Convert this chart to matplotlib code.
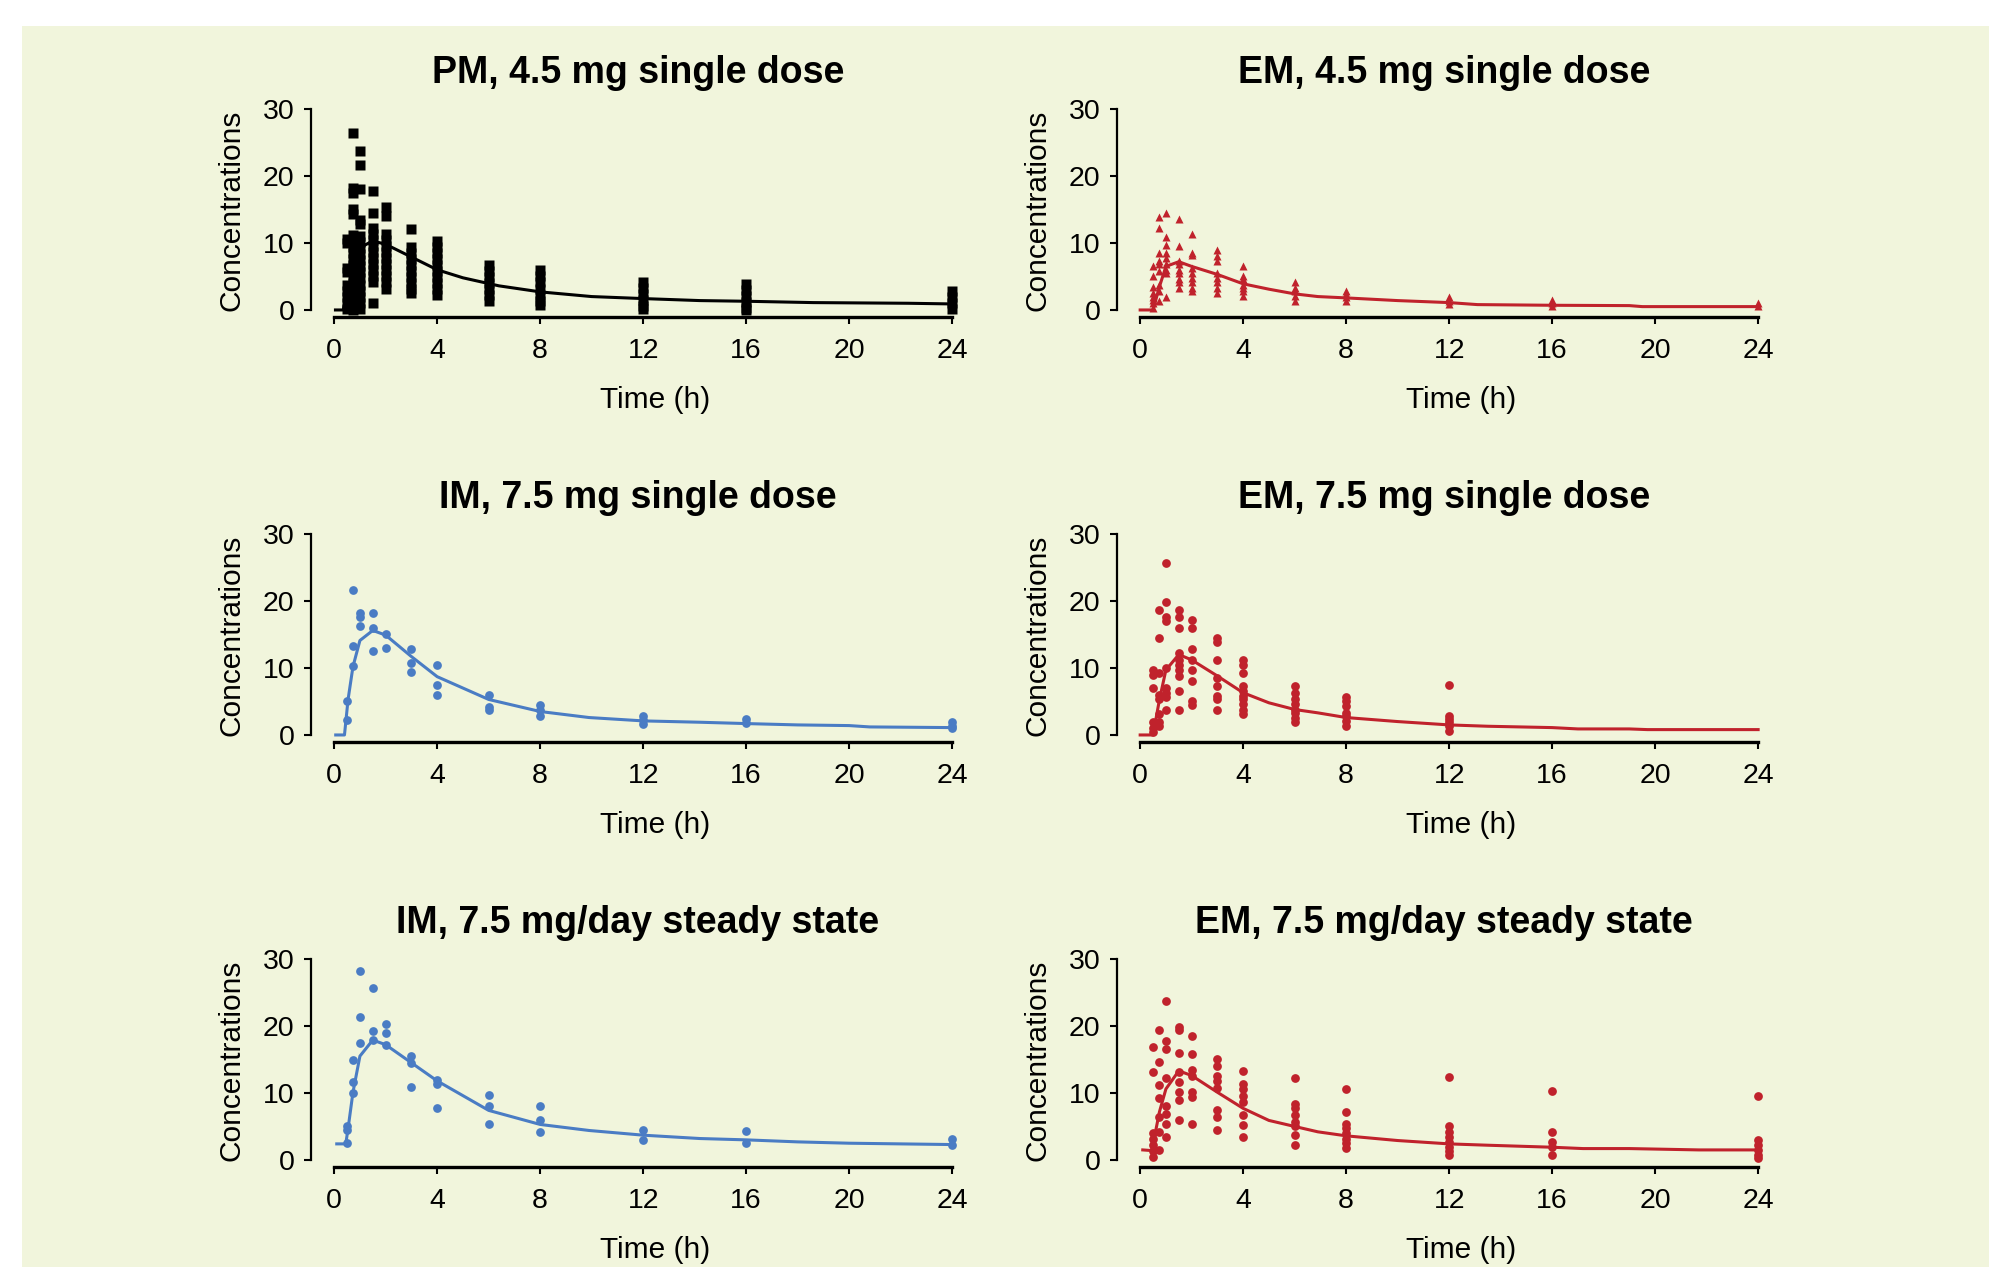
import matplotlib
matplotlib.use('Agg')
import matplotlib.pyplot as plt

plt.rcParams['font.family'] = ['Liberation Sans', 'DejaVu Sans']

# 颜色
BLACK = '#000000'
BLUE = '#4A7CC4'
RED = '#C0222C'
BG = '#F1F5DC'

x_ticks = [0, 4, 8, 12, 16, 20, 24]
y_ticks = [0, 10, 20, 30]

titles = ['PM, 4.5 mg single dose', 'EM, 4.5 mg single dose',
          'IM, 7.5 mg single dose', 'EM, 7.5 mg single dose',
          'IM, 7.5 mg/day steady state', 'EM, 7.5 mg/day steady state']

# --- 观测值: 时间 -> 浓度列表 ---
pm45_obs = {
    0.5: [10.6, 10.0, 6.3, 5.6, 3.7, 2.8, 1.9, 1.0, 0.2],
    0.75: [26.4, 18.2, 17.4, 15.0, 14.3, 11.2, 10.3, 9.4, 8.5, 7.6, 6.7, 5.8,
           4.9, 4.0, 3.1, 2.2, 1.3, 0.4, 0.0],
    1.0: [23.7, 21.6, 18.0, 13.5, 12.8, 11.0, 10.1, 9.2, 8.3, 7.4, 6.5, 5.6,
          4.7, 3.8, 2.9, 2.0, 1.1, 0.2],
    1.5: [17.8, 14.4, 12.2, 11.3, 10.4, 9.5, 8.6, 7.7, 6.8, 5.9, 5.0, 4.1, 1.0],
    2.0: [15.4, 14.0, 11.3, 10.4, 9.5, 8.6, 7.7, 6.8, 5.9, 5.0, 4.1, 3.2],
    3.0: [12.1, 9.4, 8.5, 7.6, 6.7, 5.8, 4.9, 4.0, 3.1, 2.5],
    4.0: [10.3, 9.4, 8.5, 7.6, 6.7, 5.8, 4.9, 4.0, 3.1, 2.3],
    6.0: [6.7, 5.8, 4.9, 4.0, 3.1, 2.2, 1.3],
    8.0: [5.9, 5.0, 4.1, 3.2, 2.3, 1.4, 0.7],
    12.0: [4.2, 3.3, 2.4, 1.5, 0.6, 0.2],
    16.0: [3.9, 3.0, 2.1, 1.2, 0.3, 0.0],
    24.0: [2.8, 1.9, 1.0, 0.2],
}
em45_obs = {
    0.5: [6.5, 5.0, 3.5, 2.5, 2.0, 1.5, 1.0, 0.3],
    0.75: [13.9, 12.2, 8.5, 7.3, 6.8, 5.8, 3.8, 2.8, 1.4],
    1.0: [14.4, 10.9, 9.7, 8.5, 7.8, 6.8, 6.0, 5.5, 1.9],
    1.5: [13.6, 9.5, 7.3, 6.8, 6.0, 5.5, 4.6, 4.1, 3.3],
    2.0: [11.4, 8.5, 8.2, 6.3, 5.5, 4.8, 4.1, 3.3, 2.8],
    3.0: [9.0, 8.0, 7.3, 5.5, 4.8, 4.1, 3.3, 2.6],
    4.0: [6.5, 5.1, 4.6, 3.8, 3.3, 2.8, 2.1],
    6.0: [4.1, 3.3, 2.8, 2.1, 1.4],
    8.0: [2.9, 2.4, 1.9, 1.3],
    12.0: [1.9, 1.4, 0.9],
    16.0: [1.5, 1.0, 0.6],
    24.0: [1.1, 0.6],
}
im75_obs = {
    0.5: [5.1, 2.3],
    0.75: [21.7, 13.3, 10.3],
    1.0: [18.2, 17.6, 16.3],
    1.5: [18.2, 16.0, 12.6],
    2.0: [15.1, 13.0],
    3.0: [12.9, 10.8, 9.4],
    4.0: [10.5, 7.5, 6.0],
    6.0: [5.9, 4.2, 3.7],
    8.0: [4.4, 3.8, 2.8],
    12.0: [2.8, 2.3, 1.6],
    16.0: [2.4, 1.8],
    24.0: [2.0, 1.4, 1.0],
}
em75_obs = {
    0.5: [9.7, 9.0, 7.0, 1.9, 1.1, 0.4],
    0.75: [18.7, 14.4, 9.2, 5.9, 5.4, 3.1, 1.9, 1.4],
    1.0: [25.7, 19.8, 17.6, 17.0, 10.0, 7.0, 6.3, 5.6, 3.8],
    1.5: [18.6, 17.6, 15.9, 12.2, 11.2, 10.5, 9.7, 8.8, 6.5, 3.8],
    2.0: [17.1, 15.9, 12.9, 11.2, 9.7, 8.0, 5.1, 4.4],
    3.0: [14.4, 13.9, 11.2, 8.5, 7.3, 5.8, 5.3, 3.8],
    4.0: [11.2, 10.5, 9.3, 7.3, 6.5, 5.8, 5.3, 4.6, 3.8, 3.1],
    6.0: [7.3, 6.3, 5.3, 4.6, 3.8, 3.3, 2.6, 1.9],
    8.0: [5.6, 5.1, 4.3, 3.3, 2.8, 2.1, 1.4],
    12.0: [7.5, 2.9, 2.4, 1.9, 1.4, 0.6],
}
imss_obs = {
    0.5: [5.0, 4.5, 2.5],
    0.75: [14.9, 11.7, 10.0],
    1.0: [28.2, 21.3, 17.4],
    1.5: [25.7, 19.3, 17.9],
    2.0: [20.3, 19.0, 17.2],
    3.0: [15.5, 14.5, 10.9],
    4.0: [11.9, 11.3, 7.7],
    6.0: [9.7, 8.1, 5.4],
    8.0: [8.0, 5.9, 4.2],
    12.0: [4.5, 3.0],
    16.0: [4.3, 2.5],
    24.0: [3.1, 2.3],
}
emss_obs = {
    0.5: [16.8, 13.2, 4.0, 3.2, 2.3, 1.3, 0.5],
    0.75: [19.4, 14.6, 11.2, 9.3, 6.4, 4.2, 1.5],
    1.0: [23.7, 17.8, 16.6, 12.3, 8.1, 6.9, 5.3, 3.5],
    1.5: [19.9, 19.4, 16.0, 13.1, 11.6, 10.1, 8.9, 5.9],
    2.0: [18.5, 15.8, 13.5, 12.6, 10.1, 9.4, 5.3],
    3.0: [15.0, 14.0, 12.6, 11.8, 10.8, 7.4, 6.4, 4.5],
    4.0: [13.3, 11.3, 10.6, 9.6, 8.7, 6.7, 5.2, 3.5],
    6.0: [12.2, 8.4, 7.7, 6.7, 5.7, 5.0, 3.7, 2.3],
    8.0: [10.6, 7.2, 5.3, 4.7, 4.0, 3.2, 2.5, 1.8],
    12.0: [12.4, 5.0, 4.2, 3.5, 2.7, 2.0, 1.3, 0.8],
    16.0: [10.3, 4.2, 2.7, 2.0, 0.8],
    24.0: [9.6, 3.0, 2.3, 1.5, 0.8, 0.3],
}

# --- 模型预测曲线 ---
pm45_t = [0.05, 0.35, 0.7, 1.0, 1.5, 2.0, 3.0, 4.0, 5.0, 6.4, 8.0, 10.0, 12.0, 14.2, 16.0, 18.6, 22.3, 24.0]
pm45_c = [0, 0, 5.0, 9.3, 10.3, 9.8, 7.9, 6.0, 4.8, 3.6, 2.7, 2.0, 1.7, 1.4, 1.3, 1.1, 1.0, 0.9]
em45_t = [0.0, 0.5, 0.75, 1.0, 1.5, 2.0, 3.0, 4.0, 5.0, 6.0, 6.9, 8.0, 10.0, 12.0, 13.1, 16.0, 19.0, 19.5, 24.0]
em45_c = [0, 0, 3.5, 6.5, 7.2, 6.5, 5.3, 3.9, 3.1, 2.4, 2.0, 1.8, 1.4, 1.1, 0.8, 0.7, 0.65, 0.5, 0.5]
im75_t = [0.06, 0.4, 0.54, 0.73, 1.0, 1.5, 2.0, 3.0, 4.0, 6.0, 8.0, 9.9, 12.0, 14.2, 16.0, 18.0, 20.0, 20.8, 24.0]
im75_c = [0, 0, 5.3, 10.2, 14.1, 15.6, 14.9, 11.7, 8.7, 5.3, 3.5, 2.6, 2.1, 1.9, 1.7, 1.5, 1.4, 1.2, 1.1]
em75_t = [0.0, 0.5, 0.75, 1.0, 1.5, 2.0, 3.0, 4.0, 5.0, 6.0, 6.9, 8.0, 10.0, 12.0, 13.5, 16.0, 17.0, 19.0, 19.7, 24.0]
em75_c = [0, 0, 5.3, 9.7, 12.0, 11.2, 8.8, 6.3, 4.8, 3.8, 3.3, 2.6, 2.0, 1.5, 1.3, 1.1, 0.9, 0.9, 0.8, 0.8]
imss_t = [0.1, 0.45, 0.54, 0.73, 1.0, 1.5, 2.0, 3.0, 4.0, 6.0, 8.0, 9.9, 12.0, 14.2, 16.0, 18.0, 20.0, 24.0]
imss_c = [2.4, 2.4, 4.7, 10.1, 15.5, 17.9, 17.2, 14.5, 11.8, 7.4, 5.3, 4.4, 3.7, 3.2, 3.0, 2.7, 2.5, 2.3]
emss_t = [0.1, 0.45, 0.75, 1.0, 1.5, 2.0, 3.0, 4.0, 5.0, 6.0, 6.9, 8.0, 10.0, 12.0, 13.5, 16.0, 17.2, 19.0, 21.7, 24.0]
emss_c = [1.5, 1.4, 7.2, 10.6, 13.3, 12.6, 10.1, 7.7, 5.9, 5.0, 4.2, 3.6, 2.9, 2.4, 2.2, 1.9, 1.7, 1.7, 1.5, 1.5]

panels = [
    (pm45_obs, pm45_t, pm45_c, BLACK, 's', 6.8),
    (em45_obs, em45_t, em45_c, RED, '^', 6.0),
    (im75_obs, im75_t, im75_c, BLUE, 'o', 6.3),
    (em75_obs, em75_t, em75_c, RED, 'o', 6.3),
    (imss_obs, imss_t, imss_c, BLUE, 'o', 6.3),
    (emss_obs, emss_t, emss_c, RED, 'o', 6.3),
]

W, H = 1990, 1267
fig = plt.figure(figsize=(W / 100, H / 100), dpi=100)
fig.patches.append(plt.Rectangle((22 / W, 0), 1 - 22 / W, 1 - 26 / H,
                                 transform=fig.transFigure, facecolor=BG,
                                 edgecolor='none', zorder=-10))

col_left = [311, 1117]
row_spine = [317, 742, 1167]
ax_w = 654
ax_h = 211.4

for i, (obs, lt, lc, color, marker, ms) in enumerate(panels):
    r, c = divmod(i, 2)
    ax = fig.add_axes([col_left[c] / W, 1 - row_spine[r] / H, ax_w / W, ax_h / H])
    ax.set_facecolor('none')

    xs, ys = [], []
    for t, vals in obs.items():
        xs += [t] * len(vals)
        ys += vals
    ax.plot(lt, lc, color=color, lw=2.2, zorder=2)
    ax.plot(xs, ys, linestyle='none', marker=marker, ms=ms, color=color,
            mec='none', zorder=3, clip_on=False)

    ax.set_xlim(-0.9, 24.5)
    ax.set_ylim(-1.05, 30.5)
    ax.set_xticks(x_ticks)
    ax.set_yticks(y_ticks)
    for s in ['top', 'right']:
        ax.spines[s].set_visible(False)
    ax.spines['left'].set_bounds(0, 30)
    ax.spines['left'].set_linewidth(1.6)
    ax.spines['bottom'].set_bounds(0, 24)
    ax.spines['bottom'].set_linewidth(2.4)
    ax.tick_params(axis='both', direction='out', length=5, width=1.5,
                   labelsize=20.5)
    ax.tick_params(axis='x', pad=10)
    ax.tick_params(axis='y', pad=7)

    ax.set_title(titles[i], fontsize=27, fontweight='bold', pad=16)
    ax.set_xlabel('Time (h)', fontsize=21.5)
    ax.xaxis.set_label_coords(0.526, -0.325)
    ax.set_ylabel('Concentrations', fontsize=21.5)
    ax.yaxis.set_label_coords(-0.10, 0.506)

fig.savefig('out.png', dpi=100)
